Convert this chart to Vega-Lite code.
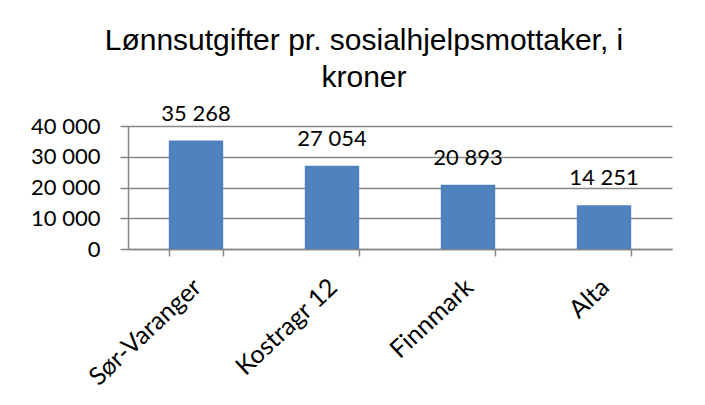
{
  "$schema": "https://vega.github.io/schema/vega-lite/v6.json",
  "width": 544,
  "height": 123,
  "autosize": {"type": "none"},
  "padding": {"left": 128, "top": 126, "right": 33, "bottom": 156},
  "background": "white",
  "config": {
    "locale": {"number": {"decimal": ",", "thousands": " ", "grouping": [3], "currency": ["", " kr"]}},
    "view": {"stroke": null},
    "font": "Lato"
  },
  "title": {
    "text": ["Lønnsutgifter pr. sosialhjelpsmottaker, i", "kroner"],
    "font": "Liberation Sans",
    "fontSize": 30,
    "fontWeight": "normal",
    "lineHeight": 36.6,
    "anchor": "middle",
    "frame": "group",
    "dx": -36,
    "dy": 52,
    "baseline": "alphabetic",
    "offset": 38,
    "color": "#000000"
  },
  "data": {
    "values": [
      {"region": "Sør-Varanger", "value": 35268},
      {"region": "Kostragr 12", "value": 27054},
      {"region": "Finnmark", "value": 20893},
      {"region": "Alta", "value": 14251}
    ]
  },
  "encoding": {
    "x": {
      "field": "region",
      "type": "nominal",
      "sort": null,
      "scale": {"paddingInner": 0.6, "paddingOuter": 0.3},
      "axis": {
        "title": null,
        "labelAngle": -43,
        "labelAlign": "right",
        "labelBaseline": "middle",
        "labelFont": "Lato",
        "labelFontSize": 25,
        "labelColor": "#000000",
        "labelOffset": 1,
        "labelPadding": 27,
        "tickBand": "extent",
        "tickSize": 7,
        "tickColor": "#868686",
        "tickWidth": 1.5,
        "domainColor": "#868686",
        "domainWidth": 1.5,
        "grid": false
      }
    },
    "y": {
      "field": "value",
      "type": "quantitative",
      "scale": {"domain": [0, 40000], "nice": false},
      "axis": {
        "title": null,
        "values": [0, 10000, 20000, 30000, 40000],
        "format": ",d",
        "labelFont": "Lato",
        "labelFontSize": 22,
        "labelColor": "#000000",
        "labelPadding": 20,
        "tickSize": 8,
        "tickColor": "#868686",
        "tickWidth": 1.5,
        "domainColor": "#868686",
        "domainWidth": 1.5,
        "grid": true,
        "gridColor": "#868686",
        "gridWidth": 1.5,
        "gridOpacity": 1
      }
    }
  },
  "layer": [
    {"mark": {"type": "bar", "color": "#4F81BD"}},
    {
      "mark": {"type": "text", "dy": -20, "baseline": "alphabetic", "fontSize": 22, "font": "Lato", "color": "#000000"},
      "encoding": {"text": {"field": "value", "type": "quantitative", "format": ",d"}}
    }
  ]
}
